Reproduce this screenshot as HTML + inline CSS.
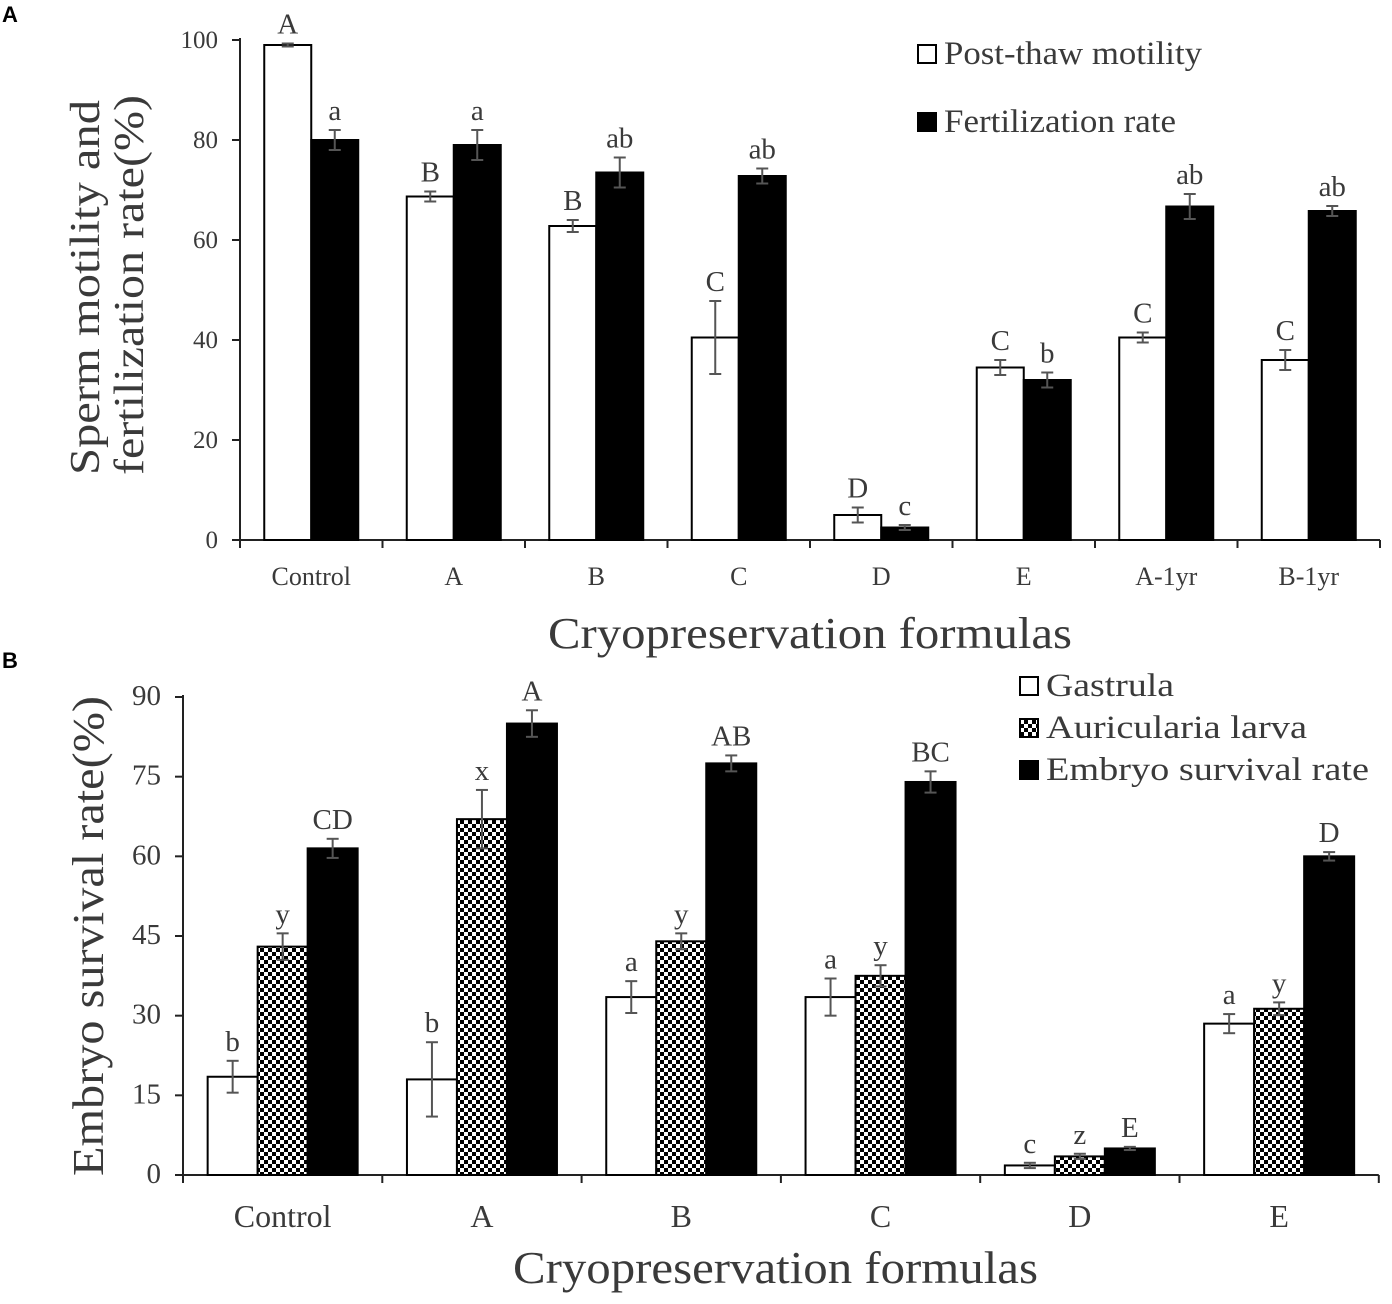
<!DOCTYPE html>
<html><head><meta charset="utf-8"><style>
body{margin:0;background:#fff;}
svg text{font-family:"Liberation Serif",serif;fill:#3a3a3a;}
</style></head><body>
<svg id="c" width="1392" height="1299" xmlns="http://www.w3.org/2000/svg">
<defs><pattern id="chk" width="8" height="8" patternUnits="userSpaceOnUse"><rect width="8" height="8" fill="#fff"/><rect width="4" height="4" fill="#000"/><rect x="4" y="4" width="4" height="4" fill="#000"/></pattern></defs>
<text x="2" y="22" style="font-family:'Liberation Sans',sans-serif;font-weight:bold;font-size:22px;fill:#000">A</text>
<text x="2" y="668" style="font-family:'Liberation Sans',sans-serif;font-weight:bold;font-size:22px;fill:#000">B</text>
</svg>
<script>
const catsA=["Control","A","B","C","D","E","A-1yr","B-1yr"];
const motility=[99,68.7,62.8,40.5,5,34.5,40.5,36];
const motilityErr=[0.3,1,1.2,7.3,1.5,1.5,1,2];
const fert=[80,79,73.5,72.8,2.5,32,66.7,65.8];
const fertErr=[2,3,3,1.5,0.5,1.5,2.5,1];
const motLetters=["A","B","B","C","D","C","C","C"];
const fertLetters=["a","a","ab","ab","c","b","ab","ab"];
const ticksA=[0,20,40,60,80,100];
const catsB=["Control","A","B","C","D","E"];
const gastrula=[18.5,18,33.5,33.5,1.8,28.5];
const gastErr=[3,7,3,3.5,0.5,1.8];
const larva=[43,67,44,37.5,3.5,31.3];
const larvaErr=[2.5,5.5,1.5,2,0.5,1.2];
const embryo=[61.5,85,77.5,74,5,60];
const embryoErr=[1.8,2.5,1.5,2,0.3,0.8];
const gastLetters=["b","b","a","a","c","a"];
const larvaLetters=["y","x","y","y","z","y"];
const embLetters=["CD","A","AB","BC","E","D"];
const ticksB=[0,15,30,45,60,75,90];
const svg=document.getElementById('c');
const NS="http://www.w3.org/2000/svg";
function mk(t,a,txt){const e=document.createElementNS(NS,t);for(const k in a)e.setAttribute(k,a[k]);if(txt!=null)e.textContent=txt;svg.appendChild(e);return e;}
function panel(o){
 const y=v=>o.y0-(v/o.max)*(o.y0-o.yTop);
 const cx=i=>o.x0+o.step*(i+0.5);
 let e=mk('line',{x1:o.x0,y1:o.yTop-2,x2:o.x0,y2:o.y0,stroke:'#222','stroke-width':2});
 
 e=mk('line',{x1:o.x0,y1:o.y0,x2:o.x0+o.step*o.cats.length,y2:o.y0,stroke:'#222','stroke-width':2});
 
 o.ticks.forEach(t=>{mk('line',{x1:o.x0-8,y1:y(t),x2:o.x0,y2:y(t),stroke:'#222','stroke-width':2});
  e=mk('text',{x:o.x0-22,y:y(t)+8,'text-anchor':'end','font-size':o.tf},t);
  });
 for(let i=0;i<=o.cats.length;i++)mk('line',{x1:o.x0+o.step*i,y1:o.y0,x2:o.x0+o.step*i,y2:o.y0+8,stroke:'#222','stroke-width':2});
 o.cats.forEach((c,i)=>{e=mk('text',{x:cx(i),y:o.y0+o.lx,'text-anchor':'middle','font-size':o.xf},c);
  });
 const n=o.series.length;
 o.series.forEach((s,k)=>{
  s.vals.forEach((v,i)=>{
   const x=cx(i)+(k-n/2)*o.bw;
   e=mk('rect',{x:x,y:y(v),width:o.bw,height:o.y0-y(v),fill:s.fill,stroke:'#000','stroke-width':2});
   
   const xm=x+o.bw/2,hi=y(v+s.err[i]),lo=y(v-s.err[i]);
   mk('line',{x1:xm,y1:hi,x2:xm,y2:lo,stroke:'#555','stroke-width':2});
   mk('line',{x1:xm-6,y1:hi,x2:xm+6,y2:hi,stroke:'#555','stroke-width':2});
   mk('line',{x1:xm-6,y1:lo,x2:xm+6,y2:lo,stroke:'#555','stroke-width':2});
   e=mk('text',{x:xm,y:hi-10,'text-anchor':'middle','font-size':o.lf},s.letters[i]);
   
  });
 });
}
panel({p:'a',cats:catsA,x0:240,step:142.5,y0:540,yTop:40,max:100,ticks:ticksA,bw:47,tf:25,xf:26,lx:45,lf:29,
 series:[{name:'motility',vals:motility,err:motilityErr,fill:'#fff',letters:motLetters},{name:'fertilization',vals:fert,err:fertErr,fill:'#000',letters:fertLetters}]});
panel({p:'b',cats:catsB,x0:183,step:199.3,y0:1175,yTop:697,max:90,ticks:ticksB,bw:50,tf:29,xf:32,lx:52,lf:29,
 series:[{name:'gastrula',vals:gastrula,err:gastErr,fill:'#fff',letters:gastLetters},{name:'larva',vals:larva,err:larvaErr,fill:'url(#chk)',letters:larvaLetters},{name:'embryo',vals:embryo,err:embryoErr,fill:'#000',letters:embLetters}]});
let e;
e=mk('text',{x:548,y:648,'font-size':44,textLength:524,lengthAdjust:'spacingAndGlyphs'},'Cryopreservation formulas');
e=mk('text',{x:0,y:0,'font-size':42,transform:'translate(99,475) rotate(-90)'});
e.innerHTML='<tspan x="0" dy="0" textLength="375" lengthAdjust="spacingAndGlyphs">Sperm motility and</tspan><tspan x="0" dy="44" textLength="380" lengthAdjust="spacingAndGlyphs">fertilization rate(%)</tspan>';
e=mk('text',{x:513,y:1283,'font-size':46,textLength:525,lengthAdjust:'spacingAndGlyphs'},'Cryopreservation formulas');
e=mk('text',{x:0,y:0,'font-size':44,transform:'translate(103,1176) rotate(-90)',textLength:480,lengthAdjust:'spacingAndGlyphs'},'Embryo survival rate(%)');
function leg(x,y,fill,label,fs,name,len){let r=mk('rect',{x:x,y:y,width:18,height:18,fill:fill,stroke:'#000','stroke-width':2});
 
 let t=mk('text',{x:x+26,y:y+19,'font-size':fs,textLength:len,lengthAdjust:'spacingAndGlyphs'},label);}
leg(918,45,'#fff','Post-thaw motility',33,'motility',258);
leg(918,113,'#000','Fertilization rate',33,'fertilization',232);
leg(1020,677,'#fff','Gastrula',33,'gastrula',128);
leg(1020,719,'url(#chk)','Auricularia larva',33,'larva',261);
leg(1020,761,'#000','Embryo survival rate',33,'embryo',323);
</script>
</body></html>
